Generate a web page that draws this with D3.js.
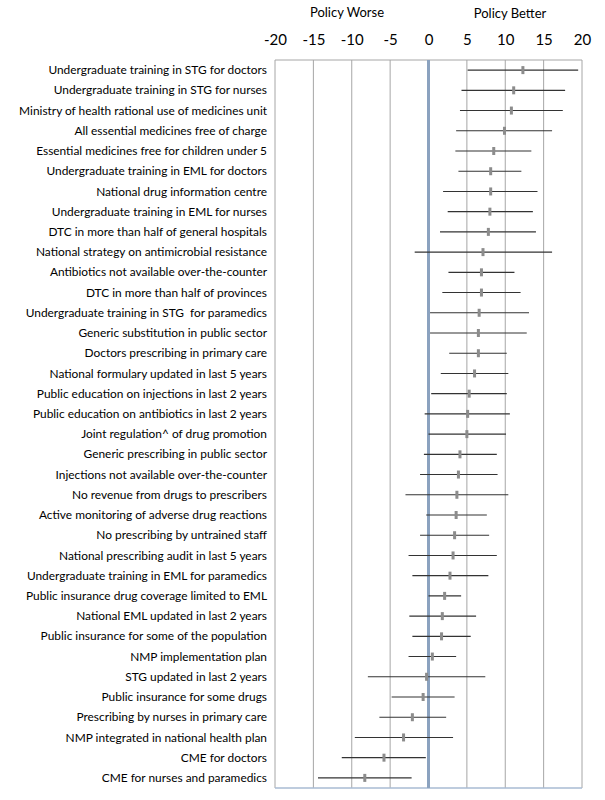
<!DOCTYPE html>
<html>
<head>
<meta charset="utf-8">
<script src="https://cdn.jsdelivr.net/npm/d3@7"></script>
<style>
  body { margin: 0; background: #fff; }
  text { font-family: Lato, "Open Sans", sans-serif; fill: #000; }
</style>
</head>
<body>
<svg id="chart" width="605" height="800"></svg>
<script>
// policy labels, top to bottom
const policies = [
  'Undergraduate training in STG for doctors',
  'Undergraduate training in STG for nurses',
  'Ministry of health rational use of medicines unit',
  'All essential medicines free of charge',
  'Essential medicines free for children under 5',
  'Undergraduate training in EML for doctors',
  'National drug information centre',
  'Undergraduate training in EML for nurses',
  'DTC in more than half of general hospitals',
  'National strategy on antimicrobial resistance',
  'Antibiotics not available over-the-counter',
  'DTC in more than half of provinces',
  'Undergraduate training in STG  for paramedics',
  'Generic substitution in public sector',
  'Doctors prescribing in primary care',
  'National formulary updated in last 5 years',
  'Public education on injections in last 2 years',
  'Public education on antibiotics in last 2 years',
  'Joint regulation^ of drug promotion',
  'Generic prescribing in public sector',
  'Injections not available over-the-counter',
  'No revenue from drugs to prescribers',
  'Active monitoring of adverse drug reactions',
  'No prescribing by untrained staff',
  'National prescribing audit in last 5 years',
  'Undergraduate training in EML for paramedics',
  'Public insurance drug coverage limited to EML',
  'National EML updated in last 2 years',
  'Public insurance for some of the population',
  'NMP implementation plan',
  'STG updated in last 2 years',
  'Public insurance for some drugs',
  'Prescribing by nurses in primary care',
  'NMP integrated in national health plan',
  'CME for doctors',
  'CME for nurses and paramedics'
];

// effect estimate and interval bounds
const estimate = [12.3, 11.1, 10.8, 9.9, 8.5, 8.1, 8.1, 8.0, 7.8, 7.1, 6.9, 6.9,
  6.6, 6.5, 6.5, 6.0, 5.3, 5.1, 5.0, 4.1, 3.9, 3.7, 3.6, 3.4, 3.2, 2.8,
  2.1, 1.8, 1.7, 0.5, -0.25, -0.7, -2.1, -3.25, -5.8, -8.3];
const lower = [5.1, 4.3, 4.1, 3.6, 3.5, 3.9, 1.9, 2.5, 1.5, -1.8, 2.6, 1.8,
  0.2, 0.2, 2.7, 1.6, 0.35, -0.5, 0.0, -0.6, -1.1, -3.0, -0.3, -1.1, -2.6, -2.1,
  0.0, -2.5, -2.1, -2.6, -7.9, -4.8, -6.4, -9.6, -11.3, -14.4];
const upper = [19.5, 17.8, 17.5, 16.1, 13.4, 12.1, 14.2, 13.6, 14.0, 16.1, 11.2, 12.0,
  13.1, 12.8, 10.2, 10.4, 10.2, 10.6, 10.1, 8.9, 9.0, 10.4, 7.6, 7.9, 8.9, 7.8,
  4.25, 6.2, 5.5, 3.6, 7.4, 3.4, 2.3, 3.2, -0.35, -2.2];

const xTicks = [-20, -15, -10, -5, 0, 5, 10, 15, 20];

const svg = d3.select('#chart');
const plotLeft = 275, plotRight = 582, plotTop = 60, plotBottom = 788;

const x = d3.scaleLinear([-20, 20], [plotLeft, plotRight]);
const y = d3.scaleBand(policies, [plotTop, plotBottom]);
const cy = d => y(d) + y.bandwidth() / 2;

// gridlines
svg.append('g')
  .selectAll('line')
  .data(xTicks.filter(t => t !== 0))
  .join('line')
  .attr('x1', d => x(d)).attr('x2', d => x(d))
  .attr('y1', plotTop).attr('y2', plotBottom)
  .attr('stroke', '#a6a6a6').attr('stroke-width', 1);

// top border
svg.append('line')
  .attr('x1', plotLeft).attr('x2', plotRight).attr('y1', plotTop).attr('y2', plotTop)
  .attr('stroke', '#a6a6a6');
// bottom border
svg.append('line')
  .attr('x1', plotLeft).attr('x2', plotRight).attr('y1', plotBottom).attr('y2', plotBottom)
  .attr('stroke', '#a9bbd3').attr('stroke-width', 1.5);

// zero line
svg.append('line')
  .attr('x1', x(0)).attr('x2', x(0)).attr('y1', plotTop).attr('y2', plotBottom)
  .attr('stroke', '#8ba2bf').attr('stroke-width', 3);

// top axis labels
const xAxis = d3.axisTop(x).tickValues(xTicks).tickFormat(d => String(d))
  .tickSize(0).tickPadding(0);
const ax = svg.append('g').attr('transform', 'translate(0,45)').call(xAxis);
ax.select('.domain').remove();
ax.selectAll('text')
  .attr('dy', 0)
  .style('font-family', 'Lato, "Open Sans", sans-serif')
  .style('font-size', '15px')
  .attr('fill', '#000');

// titles
svg.append('text').attr('x', 347).attr('y', 17)
  .attr('text-anchor', 'middle').style('font-size', '13px').text('Policy Worse');
svg.append('text').attr('x', 510).attr('y', 18)
  .attr('text-anchor', 'middle').style('font-size', '13px').text('Policy Better');

// category labels
svg.append('g')
  .selectAll('text')
  .data(policies)
  .join('text')
  .attr('x', 267)
  .attr('y', cy)
  .attr('dy', '0.35em')
  .attr('text-anchor', 'end')
  .style('font-size', '11.9px')
  .style('white-space', 'pre')
  .text(d => d);

// intervals
svg.append('g')
  .selectAll('line')
  .data(policies)
  .join('line')
  .attr('x1', (d, i) => x(lower[i]))
  .attr('x2', (d, i) => x(upper[i]))
  .attr('y1', cy)
  .attr('y2', cy)
  .attr('stroke', '#333').attr('stroke-width', 1.1);

// estimates
svg.append('g')
  .selectAll('rect')
  .data(policies)
  .join('rect')
  .attr('x', (d, i) => x(estimate[i]) - 1.5)
  .attr('y', d => cy(d) - 4)
  .attr('width', 3)
  .attr('height', 8)
  .attr('fill', '#8c8c8c');
</script>
</body>
</html>
